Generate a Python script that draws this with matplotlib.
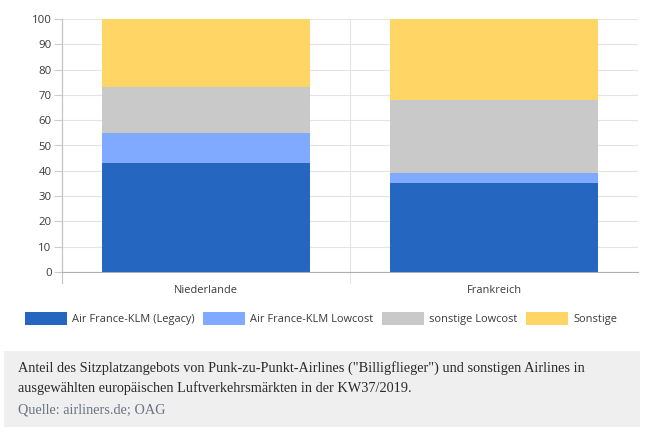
import matplotlib
matplotlib.use("Agg")
import matplotlib.pyplot as plt
from matplotlib.patches import FancyBboxPatch

W, H = 660, 436

# Daten
laender = ["Niederlande", "Frankreich"]
serien = ["Air France-KLM (Legacy)", "Air France-KLM Lowcost", "sonstige Lowcost", "Sonstige"]
legacy = [43, 35]
lowcost = [12, 4]
sonstige_lowcost = [18, 29]
sonstige = [27, 32]
werte = [legacy, lowcost, sonstige_lowcost, sonstige]
farben = ["#2566c0", "#7faaff", "#c9c9c9", "#ffd666"]
yticks = list(range(0, 101, 10))

caption = ('Anteil des Sitzplatzangebots von Punk-zu-Punkt-Airlines ("Billigflieger") und sonstigen Airlines in\n'
           'ausgewählten europäischen Luftverkehrsmärkten in der KW37/2019.')
quelle = "Quelle: airliners.de; OAG"

plt.rcParams["font.family"] = ["Open Sans", "DejaVu Sans"]

fig = plt.figure(figsize=(W / 100, H / 100), dpi=100)
ax = fig.add_axes([62 / W, 1 - 272 / H, (638 - 62) / W, (272 - 19) / H])

# Gestapelte Balken
unten = [0, 0]
for name, vals, farbe in zip(serien, werte, farben):
    ax.bar(range(2), vals, width=0.722, bottom=unten, color=farbe, label=name, zorder=3)
    unten = [u + v for u, v in zip(unten, vals)]

ax.set_xlim(-0.5, 1.5)
ax.set_ylim(0, 100)
ax.set_yticks(yticks)
ax.set_xticks(range(2))
ax.set_xticklabels(laender)
ax.tick_params(axis="x", length=0, pad=9, labelsize=7.9, labelcolor="#3a3a3a")
ax.tick_params(axis="y", length=6, width=0.8, color="#cccccc", pad=1.5, labelsize=8.2, labelcolor="#3a3a3a")
ax.grid(axis="y", color="#e4e4e4", linewidth=0.8, zorder=0)

for s in ["top", "right"]:
    ax.spines[s].set_visible(False)
ax.spines["left"].set_color("#c4c4c4")
ax.spines["bottom"].set_color("#b0b0b0")

# Trennlinien zwischen den Kategorien, laufen unter die Achse
for x in [-0.5, 0.5]:
    ax.plot([x, x], [-4.3, 100], color="#e4e4e4" if x > 0 else "#c4c4c4", linewidth=0.8,
            clip_on=False, zorder=1)

ax.legend(loc="center left", bbox_to_anchor=(25 / W, 1 - 318.5 / H), bbox_transform=fig.transFigure,
          ncol=4, frameon=False, fontsize=7.9, labelcolor="#3a3a3a",
          handlelength=3.83, handleheight=1.55, handletextpad=0.45, columnspacing=0.8,
          borderpad=0, borderaxespad=0)

# Kasten mit Bildunterschrift
box = FancyBboxPatch((4 / W, 1 - 427 / H), 636 / W, 76 / H, transform=fig.transFigure,
                     boxstyle="square,pad=0", facecolor="#efefef",
                     edgecolor="none", zorder=-1)
fig.patches.append(box)
fig.text(18.5 / W, 1 - 361 / H, caption, family="Liberation Serif", fontsize=10.25, color="#2a2a2a",
         va="top", linespacing=1.55)
fig.text(18.5 / W, 1 - 410 / H, quelle, family="Liberation Serif", fontsize=10.25, color="#6b7280",
         va="center")

fig.savefig("out.png", dpi=100)
